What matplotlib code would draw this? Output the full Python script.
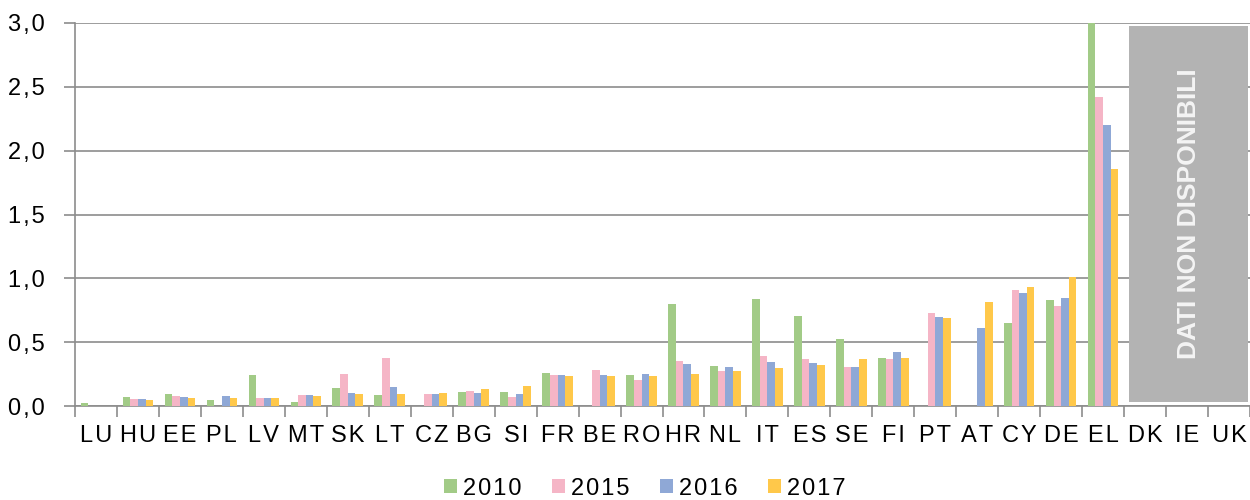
import matplotlib
matplotlib.use('Agg')
import matplotlib.pyplot as plt
import numpy as np
from matplotlib.patches import Rectangle
from matplotlib.ticker import FuncFormatter

plt.rcParams['font.family'] = ['Liberation Sans', 'DejaVu Sans']

countries = ["LU", "HU", "EE", "PL", "LV", "MT", "SK", "LT", "CZ", "BG", "SI", "FR", "BE", "RO",
             "HR", "NL", "IT", "ES", "SE", "FI", "PT", "AT", "CY", "DE", "EL", "DK", "IE", "UK"]
nan = np.nan
v2010 = [0.02, 0.07, 0.094, 0.05, 0.24, 0.029, 0.138, 0.084, nan, 0.107, 0.107, 0.261, nan, 0.243,
         0.796, 0.316, 0.836, 0.705, 0.525, 0.373, nan, nan, 0.65, 0.83, 3.0, nan, nan, nan]
v2015 = [nan, 0.055, 0.08, nan, 0.063, 0.086, 0.248, 0.373, 0.091, 0.117, 0.073, 0.24, 0.282, 0.20,
         0.352, 0.277, 0.392, 0.371, 0.303, 0.368, 0.726, nan, 0.906, 0.783, 2.42, nan, nan, nan]
v2016 = [nan, 0.055, 0.068, 0.078, 0.063, 0.086, 0.099, 0.149, 0.097, 0.104, 0.094, 0.243, 0.243, 0.25,
         0.326, 0.305, 0.347, 0.337, 0.303, 0.423, 0.697, 0.608, 0.885, 0.849, 2.20, nan, nan, nan]
v2017 = [nan, 0.05, 0.063, 0.063, 0.063, 0.076, 0.091, 0.094, 0.10, 0.13, 0.157, 0.235, 0.238, 0.238,
         0.253, 0.274, 0.30, 0.321, 0.371, 0.373, 0.689, 0.815, 0.932, 1.01, 1.86, nan, nan, nan]
years = ["2010", "2015", "2016", "2017"]
colors = ["#a2cb87", "#f5b5c6", "#8fa8d6", "#ffc84a"]

HS = "\u200a"  # hair space, to mimic the loose letter spacing


def spaced(s):
    return HS.join(s)


fig = plt.figure(figsize=(12.5, 5), dpi=100)
ax = fig.add_axes([0.06, 0.188, 0.94, 0.766])

x = np.arange(len(countries))
w = 0.182
for k, (vals, yr, c) in enumerate(zip([v2010, v2015, v2016, v2017], years, colors)):
    ax.bar(x + (k - 1.5) * w, vals, w, color=c, label=spaced(yr), zorder=3)

ax.set_xlim(-0.5, len(countries) - 0.5)
ax.set_ylim(0, 3.0)
ax.set_yticks(np.arange(0, 3.01, 0.5))
ax.yaxis.set_major_formatter(FuncFormatter(lambda v, p: spaced(f"{v:.1f}".replace(".", ","))))
ax.grid(axis='y', color='#8c8c8c', linewidth=1.2, zorder=0)

ax.set_xticks(x)
ax.set_xticklabels([spaced(c) for c in countries])
ax.set_xticks(np.arange(-0.5, len(countries), 1.0), minor=True)
ax.tick_params(axis='x', which='major', length=0, pad=14, labelsize=17)
ax.tick_params(axis='x', which='minor', length=8, width=1.2, color='#8c8c8c', direction='out')
ax.tick_params(axis='y', length=8, width=1.2, color='#8c8c8c', labelsize=17, pad=14)

for s in ['top', 'right']:
    ax.spines[s].set_visible(False)
for s in ['left', 'bottom']:
    ax.spines[s].set_color('#8c8c8c')
    ax.spines[s].set_linewidth(1.2)

# grey box for missing countries
ax.add_patch(Rectangle((24.62, 0.03), 2.83, 2.95, facecolor='#b3b3b3', edgecolor='none', zorder=4))
ax.text(26.05, 1.51, "DATI NON DISPONIBILI", rotation=90, ha='center', va='center',
        color='#f4f4f4', fontsize=19, fontweight='bold', zorder=5)

ax.legend(loc='lower center', bbox_to_anchor=(0.485, -0.3), ncol=4, frameon=False,
          fontsize=17, handlelength=0.55, handleheight=0.55, handletextpad=0.25, columnspacing=1.3)

plt.savefig("out.png", dpi=100)
